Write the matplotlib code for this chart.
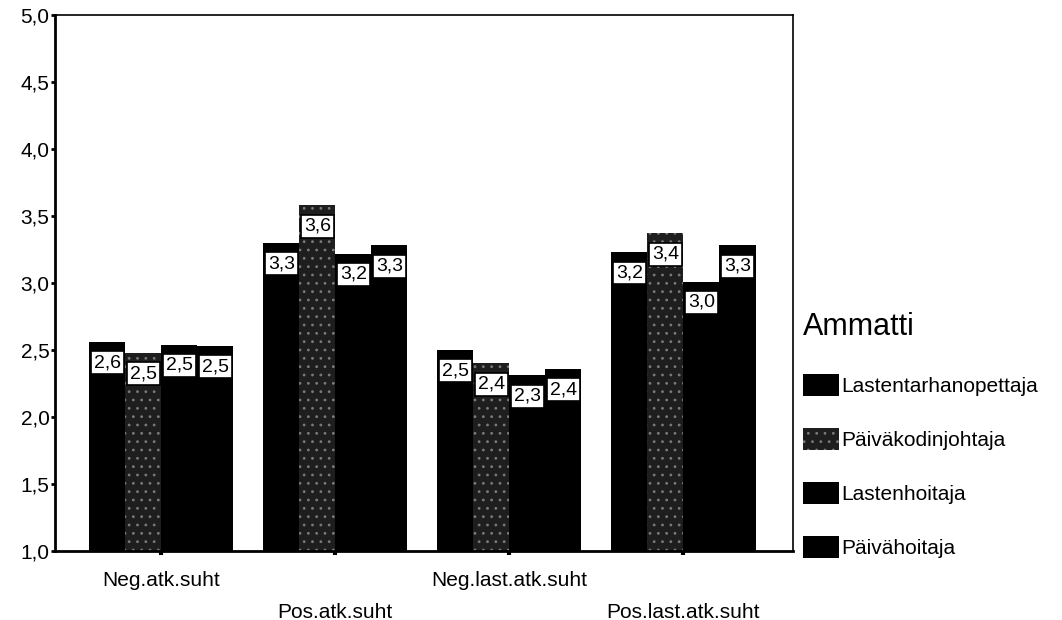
import matplotlib.pyplot as plt
from matplotlib.ticker import FuncFormatter, MultipleLocator
import numpy as np

plt.rcParams['font.family'] = ['Liberation Sans', 'DejaVu Sans']
plt.rcParams['hatch.linewidth'] = 0.8

categories = ["Neg.atk.suht", "Pos.atk.suht", "Neg.last.atk.suht", "Pos.last.atk.suht"]
groups = ["Lastentarhanopettaja", "Päiväkodinjohtaja", "Lastenhoitaja", "Päivähoitaja"]

lastentarhanopettaja = [2.56, 3.30, 2.50, 3.23]
paivakodinjohtaja = [2.48, 3.58, 2.40, 3.37]
lastenhoitaja = [2.54, 3.22, 2.31, 3.01]
paivahoitaja = [2.53, 3.28, 2.36, 3.28]

series = [lastentarhanopettaja, paivakodinjohtaja, lastenhoitaja, paivahoitaja]

def comma(v, pos=None):
    return ("%.1f" % v).replace(".", ",")

fig = plt.figure(figsize=(10.62, 6.2), dpi=100)
ax = fig.add_axes([0.0518, 0.1113, 0.695, 0.8645])

x = np.arange(len(categories))
w = 0.207
handles = []
for i, vals in enumerate(series):
    pos = x + (i - 1.5) * w
    if i == 1:
        bars = ax.bar(pos, vals, w, bottom=0, color='#1e1e1e', hatch='..',
                      edgecolor='#7a7a7a', linewidth=0)
    else:
        bars = ax.bar(pos, vals, w, bottom=0, color='black', linewidth=0)
    handles.append(bars)
    # value boxes just under the top of each bar
    for px, v in zip(pos, vals):
        ax.annotate(comma(v), (px, v), xytext=(0, -15), textcoords='offset points',
                    ha='center', va='center', fontsize=14,
                    bbox=dict(boxstyle='square,pad=0.15', fc='white', ec='black', lw=1.2))

ax.set_ylim(1.0, 5.0)
ax.set_xlim(-0.61, 3.63)
ax.yaxis.set_major_locator(MultipleLocator(0.5))
ax.yaxis.set_major_formatter(FuncFormatter(comma))
ax.tick_params(axis='y', direction='out', length=3, width=2, labelsize=15, pad=1)
ax.tick_params(axis='x', direction='out', length=3, width=3, labelsize=15, pad=8)
ax.set_xticks(x)
ax.set_xticklabels(categories)
# stagger the category labels on two rows
for j, lab in enumerate(ax.get_xticklabels()):
    lab.set_y(-0.008 if j % 2 == 0 else -0.068)

for s in ax.spines.values():
    s.set_linewidth(1.2)
ax.spines['left'].set_linewidth(2)
ax.spines['bottom'].set_linewidth(2)

leg = fig.legend(handles, groups, loc='upper left', bbox_to_anchor=(0.748, 0.51),
                 frameon=False, title="Ammatti", title_fontsize=22, fontsize=15,
                 handlelength=1.75, handleheight=1.2, handletextpad=0.1,
                 labelspacing=1.55, borderaxespad=0)
leg._legend_box.align = "left"

fig.savefig("out.png", dpi=100)
